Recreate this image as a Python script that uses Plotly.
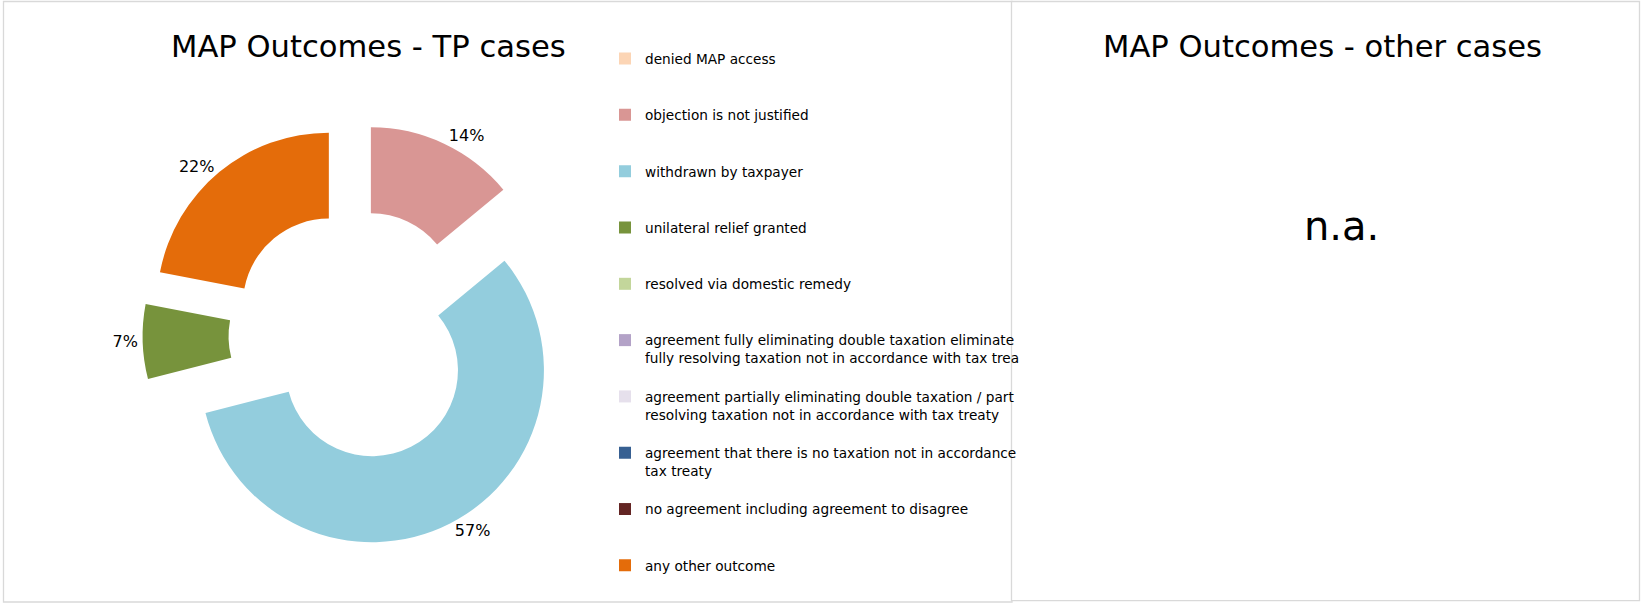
import plotly.graph_objects as go

# ---- data ----
categories = [
    "denied MAP access",
    "objection is not justified",
    "withdrawn by taxpayer",
    "unilateral relief granted",
    "resolved via domestic remedy",
    "agreement fully eliminating double taxation eliminate\nfully resolving taxation not in accordance with tax trea",
    "agreement partially eliminating double taxation / part\nresolving taxation not in accordance with tax treaty",
    "agreement that there is no taxation not in accordance\ntax treaty",
    "no agreement including agreement to disagree",
    "any other outcome",
]
share_tp = [0, 14, 57, 7, 0, 0, 0, 0, 0, 22]
colors = ["#FCD5B5", "#D99694", "#93CDDD", "#77933C", "#C3D69B",
          "#B3A2C7", "#E6E0EC", "#376092", "#632523", "#E46C0A"]
title_left = "MAP Outcomes - TP cases"
title_right = "MAP Outcomes - other cases"
right_text = "n.a."

W, H = 1641, 603
FONT = "DejaVu Sans"


def px(x):
    return x / W


def py(y):
    return 1 - y / H


def legend_label(c):
    lines = c.split("\n")
    if len(lines) == 1:
        lines = lines + [""]
    return "<br>" + "<br>".join(lines)


labels = [legend_label(c) for c in categories]
texts = [f"{v}%" if v else "" for v in share_tp]

fig = go.Figure()
fig.add_trace(go.Pie(
    labels=labels,
    values=share_tp,
    text=texts,
    textinfo="text",
    textposition="outside",
    textfont=dict(family=FONT, size=16, color="#000000"),
    hole=0.5,
    pull=[0.23] * len(share_tp),
    sort=False,
    direction="clockwise",
    rotation=0,
    marker=dict(colors=colors, line=dict(width=0)),
    domain=dict(x=[0.0817, 0.3498], y=[0.0937, 0.7951]),
    hoverinfo="skip",
    showlegend=True,
))

fig.update_layout(
    width=W, height=H,
    margin=dict(l=0, r=0, t=0, b=0, autoexpand=False),
    paper_bgcolor="white",
    plot_bgcolor="white",
    showlegend=True,
    legend=dict(
        x=px(605), y=py(25.4), xanchor="left", yanchor="top",
        font=dict(family=FONT, size=13.67, color="#000000"),
        bgcolor="rgba(0,0,0,0)",
        traceorder="normal",
    ),
    shapes=[
        dict(type="rect", xref="paper", yref="paper",
             x0=px(3.5), x1=px(1012), y0=py(602), y1=py(1.5),
             line=dict(color="#D9D9D9", width=1.3), fillcolor="rgba(0,0,0,0)", layer="below"),
        dict(type="rect", xref="paper", yref="paper",
             x0=px(1011.5), x1=px(1639.5), y0=py(600.7), y1=py(1.5),
             line=dict(color="#D9D9D9", width=1.3), fillcolor="white", layer="below"),
    ],
    annotations=[
        dict(text=title_left, xref="paper", yref="paper", x=px(368), y=py(47),
             xanchor="center", yanchor="middle", showarrow=False,
             font=dict(family=FONT, size=30.6, color="#000000")),
        dict(text=title_right, xref="paper", yref="paper", x=px(1322), y=py(47),
             xanchor="center", yanchor="middle", showarrow=False,
             font=dict(family=FONT, size=30.6, color="#000000")),
        dict(text=right_text, xref="paper", yref="paper", x=px(1341), y=py(226),
             xanchor="center", yanchor="middle", showarrow=False,
             font=dict(family=FONT, size=40, color="#000000")),
    ],
)

fig.write_html(
    "out.html",
    config={"displayModeBar": False},
    post_script="document.body.style.margin='0';document.body.style.overflow='hidden';",
)
